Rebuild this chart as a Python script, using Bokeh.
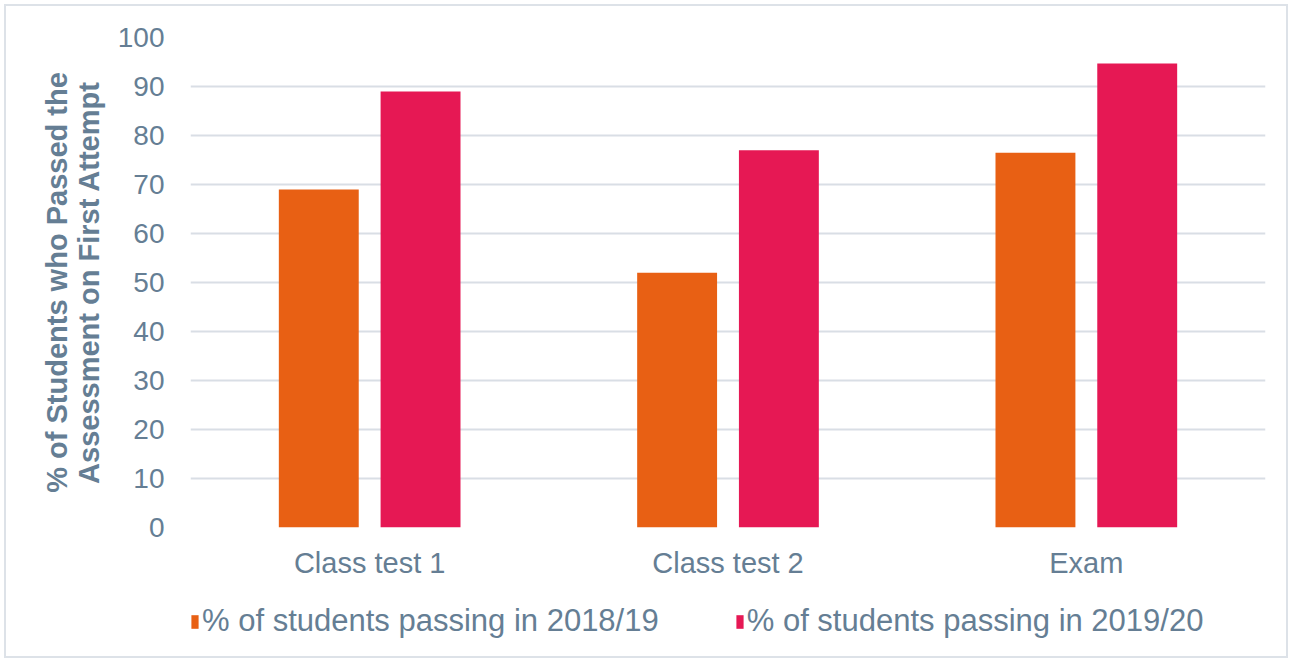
from bokeh.plotting import figure
from bokeh.models import ColumnDataSource, Range1d, Legend, LegendItem, FactorRange, SingleIntervalTicker
from bokeh.transform import dodge
from bokeh.layouts import column
from bokeh.embed import file_html
from bokeh.resources import INLINE

categories = ["Class test 1", "Class test 2", "Exam"]
pass_2018_19 = [69.0, 52.0, 76.5]
pass_2019_20 = [89.0, 77.0, 94.7]
series_labels = ["% of students passing in 2018/19", "% of students passing in 2019/20"]
y_label = "% of Students who Passed the\nAssessment on First Attempt"

ORANGE = "#E86014"
PINK = "#E61854"
TEXT = "#657E94"
GRID = "#D9DEE5"
FONT = "Liberation Sans"

src = ColumnDataSource(dict(cat=categories, a=pass_2018_19, b=pass_2019_20))

p = figure(x_range=FactorRange(*categories), y_range=Range1d(0, 100),
           frame_width=1075, frame_height=490,
           output_backend="svg", toolbar_location=None,
           min_border_left=184, min_border_top=31, min_border_right=21, min_border_bottom=60)
p.x_range.range_padding = 0

r1 = p.vbar(x=dodge("cat", -0.142, range=p.x_range), top="a", width=0.223, source=src,
            fill_color=ORANGE, line_color=None)
r2 = p.vbar(x=dodge("cat", 0.142, range=p.x_range), top="b", width=0.223, source=src,
            fill_color=PINK, line_color=None)

p.outline_line_color = None
p.xgrid.grid_line_color = None
p.ygrid.grid_line_color = GRID
p.ygrid.grid_line_width = 2
p.yaxis.ticker = SingleIntervalTicker(interval=10)

for ax in (p.xaxis[0], p.yaxis[0]):
    ax.axis_line_color = None
    ax.major_tick_line_color = None
    ax.minor_tick_line_color = None
    ax.major_label_text_font = FONT
    ax.major_label_text_font_size = "28px"
    ax.major_label_text_color = TEXT

p.xaxis.major_label_text_font_size = "29px"
p.yaxis.major_label_standoff = 20
p.xaxis.major_label_standoff = 13
p.yaxis.axis_label = y_label
p.yaxis.axis_label_text_font = FONT
p.yaxis.axis_label_text_font_size = "29px"
p.yaxis.axis_label_text_font_style = "bold"
p.yaxis.axis_label_text_color = TEXT
p.yaxis.axis_label_text_line_height = 1.0
p.yaxis.axis_label_standoff = 10

# legend strip below the chart (zero-height keys, only used for the legend swatches)
lf = figure(width=1280, height=69, x_range=Range1d(0, 1), y_range=Range1d(0, 1),
            x_axis_type=None, y_axis_type=None,
            output_backend="svg", toolbar_location=None,
            min_border=0, min_border_left=0, min_border_right=0, min_border_top=0, min_border_bottom=0)
lf.grid.visible = False
lf.outline_line_color = None
k1 = lf.vbar(x=0.5, top=0, width=0.1, source=src, fill_color=ORANGE, line_color=None)
k2 = lf.vbar(x=0.5, top=0, width=0.1, source=src, fill_color=PINK, line_color=None)

legend = Legend(items=[LegendItem(label=series_labels[0], renderers=[k1]),
                       LegendItem(label=series_labels[1], renderers=[k2])],
                orientation="horizontal", location=(0, 17),
                glyph_width=9, glyph_height=17, label_standoff=3, spacing=76,
                label_text_font=FONT, label_text_font_size="31px", label_text_color=TEXT,
                border_line_color=None, background_fill_alpha=0, padding=0, margin=0)
lf.add_layout(legend, "center")

layout = column(p, lf, spacing=0,
                styles={"border": "2px solid #DDE2E8", "box-sizing": "border-box",
                        "margin": "4px 0 0 4px"})

open("out.html", "w").write(file_html(layout, INLINE))
